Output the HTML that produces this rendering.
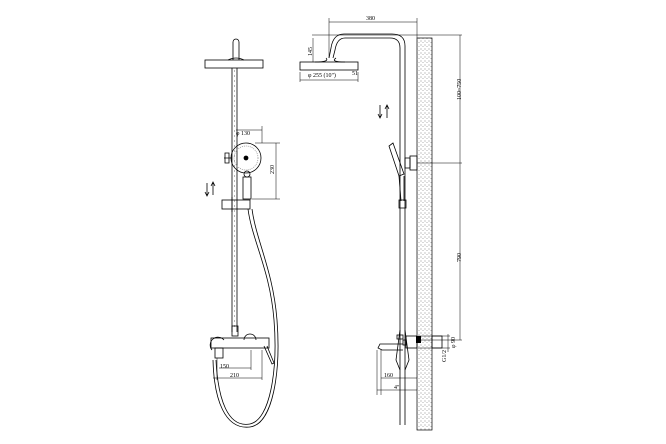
<!DOCTYPE html>
<html><head><meta charset="utf-8"><style>
html,body{margin:0;padding:0;background:#fff;width:666px;height:444px;overflow:hidden}
svg{display:block}
text{font-family:"Liberation Serif",serif;font-size:6px;fill:#000}
</style></head><body>
<svg width="666" height="444" viewBox="0 0 666 444" xmlns="http://www.w3.org/2000/svg">
<defs>
<pattern id="dots" width="4" height="4" patternUnits="userSpaceOnUse">
<rect width="4" height="4" fill="#fff"/>
<circle cx="1" cy="1" r="0.55" fill="#777"/><circle cx="3" cy="2.5" r="0.5" fill="#999"/>
</pattern>
</defs>
<g fill="none" stroke="#000" stroke-width="0.8">
<!-- LEFT VIEW -->
<path d="M233 60 V42 a3 3 0 0 1 6 0 V60"/>
<path d="M228 60 Q236 56 244 60"/>
<rect x="205" y="60" width="58" height="8"/>
<line x1="232" y1="68" x2="232" y2="332"/>
<line x1="237" y1="68" x2="237" y2="332"/>
<line x1="234.5" y1="70" x2="234.5" y2="330" stroke="#888" stroke-width="0.6" stroke-dasharray="2 3"/>
<circle cx="246" cy="158" r="15"/>
<circle cx="246" cy="158" r="12" stroke="#999" stroke-dasharray="1 1"/>
<circle cx="246" cy="158" r="2" fill="#000"/>
<circle cx="247" cy="174" r="3"/>
<rect x="243" y="177" width="8" height="22"/>
<path d="M224 158 h8 M225 153 v10 h4 v-10 z"/>
<rect x="222" y="200" width="28" height="9"/>
<line x1="232" y1="197" x2="232" y2="212"/>
<path d="M248 209 C252 240 270 270 274 320 C278 370 270 420 250 424 C228 428 218 400 216 360"/>
<path d="M252 209 C256 240 273 270 277 320 C281 372 273 424 250 427 C225 430 214 400 213 360"/>
<path d="M207 183 v12 M205 192 l2 4 l2 -4 M213 195 v-12 M211 186 l2 -4 l2 4"/>
<!-- mixer -->
<rect x="232" y="326" width="6" height="10"/>
<path d="M212 350 a6 6 0 0 1 12 -10 M244 340 a6 6 0 0 1 12 0"/>
<rect x="211" y="338" width="58" height="10"/>
<rect x="215" y="348" width="8" height="10"/>
<path d="M264 346 l8 18 l2 -1 l-7 -17"/>
<!-- left dims -->
<line x1="236" y1="130" x2="262" y2="130" stroke-width="0.5"/>
<line x1="262" y1="126" x2="262" y2="143" stroke-width="0.5"/>
<line x1="255" y1="143" x2="280" y2="143" stroke-width="0.5"/>
<line x1="252" y1="199" x2="280" y2="199" stroke-width="0.5"/>
<line x1="276" y1="143" x2="276" y2="199" stroke-width="0.5"/>
<line x1="217" y1="358" x2="217" y2="380" stroke-width="0.5"/>
<line x1="251" y1="350" x2="251" y2="370" stroke-width="0.5"/>
<line x1="262" y1="350" x2="262" y2="380" stroke-width="0.5"/>
<line x1="219" y1="368" x2="251" y2="368" stroke-width="0.5"/>
<line x1="213" y1="378" x2="262" y2="378" stroke-width="0.5"/>
<!-- RIGHT VIEW -->
<rect x="417" y="38" width="15" height="392" fill="url(#dots)" stroke-width="0.7"/>
<path d="M400 425 V48 Q400 38 390 38 H345 Q337 38 335 50 L333 58"/>
<path d="M405 425 V46 Q405 34 392 34 H344 Q333 34 331 48 L329 58"/>
<path d="M326 58 Q330 62 315 62 M336 58 Q330 62 345 62"/>
<rect x="300" y="62" width="58" height="8"/>
<path d="M393 143 l-4 3 l10 30 l5 -2 z"/>
<path d="M399 176 l2 25 M404 176 l0 25"/>
<rect x="399" y="200" width="7" height="8"/>
<rect x="405" y="158" width="5" height="10"/>
<rect x="410" y="156" width="7" height="14"/>
<path d="M400 330 l-4 30 l4 10 M405 330 l4 30 l-4 10"/>
<rect x="397" y="335" width="6" height="4"/>
<rect x="406" y="336" width="11" height="12"/>
<rect x="403" y="340" width="3" height="5"/>
<rect x="432" y="336" width="10" height="12"/>
<path d="M403 344 H380 l-2 4 l4 2 h21"/>
<!-- right dims -->
<g stroke-width="0.5">
<line x1="329" y1="22" x2="417" y2="22"/>
<line x1="329" y1="18" x2="329" y2="58"/>
<line x1="417" y1="18" x2="417" y2="38"/>
<line x1="312" y1="35" x2="462" y2="35"/>
<line x1="313" y1="38" x2="313" y2="62"/>
<line x1="300" y1="72" x2="300" y2="82"/>
<line x1="358" y1="72" x2="358" y2="82"/>
<line x1="300" y1="80" x2="358" y2="80"/>
<line x1="460" y1="35" x2="460" y2="340"/>
<line x1="417" y1="163" x2="462" y2="163"/>
<line x1="418" y1="340" x2="462" y2="340"/>
<line x1="418" y1="336" x2="450" y2="336"/>
<line x1="418" y1="348" x2="450" y2="348"/>
<line x1="448" y1="334" x2="448" y2="352"/>
<line x1="381" y1="350" x2="381" y2="395"/>
<line x1="381" y1="378" x2="417" y2="378"/>
<line x1="377" y1="390" x2="417" y2="390"/>
<line x1="377" y1="350" x2="377" y2="395"/>
</g>
<path d="M380 105 v12 M378 114 l2 4 l2 -4 M387 118 v-12 M385 109 l2 -4 l2 4"/>
</g>
<rect x="416" y="336" width="5" height="7" fill="#000"/>
<text x="236" y="135" font-size="5.5">φ 130</text>
<text x="220" y="368" font-size="5.5">150</text>
<text x="230" y="377" font-size="5.5">210</text>
<text x="366" y="20">380</text>
<text x="308" y="77">φ 255 (10")</text>
<text x="352" y="75">51</text>
<text x="384" y="377">160</text>
<text x="394" y="389">4"</text>
<text transform="translate(274 174) rotate(-90)">230</text>
<text transform="translate(312 56) rotate(-90)">145</text>
<text transform="translate(461 100) rotate(-90)">100~750</text>
<text transform="translate(461 262) rotate(-90)">790</text>
<text transform="translate(446 362) rotate(-90)">G1/2</text>
<text transform="translate(455 348) rotate(-90)">φ 90</text>
</svg>
</body></html>
